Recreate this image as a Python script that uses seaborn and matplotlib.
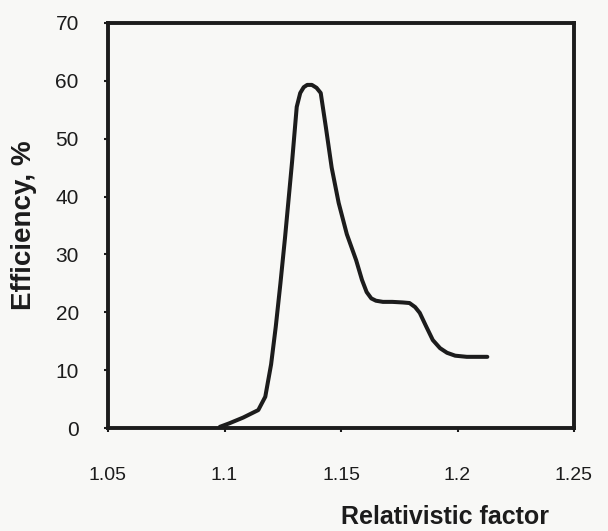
import matplotlib
matplotlib.use("Agg")
import matplotlib.pyplot as plt
import seaborn as sns
import pandas as pd

# Data
factor = [1.098, 1.102, 1.108, 1.1145, 1.1175, 1.120, 1.122, 1.124, 1.126, 1.129, 1.131,
          1.1325, 1.134, 1.1355, 1.1375, 1.1395, 1.1413, 1.1435, 1.146, 1.149, 1.1525,
          1.1565, 1.159, 1.161, 1.163, 1.165, 1.168, 1.172, 1.1765, 1.1794, 1.1818,
          1.1838, 1.1865, 1.1894, 1.1925, 1.1955, 1.199, 1.204, 1.2128]
efficiency = [0.2, 0.8, 1.8, 3.1, 5.4, 11.0, 17.5, 25.0, 33.0, 46.0, 55.5,
              57.9, 58.9, 59.3, 59.3, 58.8, 57.9, 52.0, 45.0, 38.9, 33.5,
              29.0, 25.6, 23.5, 22.4, 22.0, 21.8, 21.8, 21.7, 21.6, 20.9,
              19.9, 17.6, 15.2, 13.8, 13.0, 12.5, 12.3, 12.3]

x_ticks = [1.05, 1.1, 1.15, 1.2, 1.25]
x_tick_labels = ["1.05", "1.1", "1.15", "1.2", "1.25"]
y_ticks = [0, 10, 20, 30, 40, 50, 60, 70]

df = pd.DataFrame({"factor": factor, "efficiency": efficiency})

sns.set_theme(style="white")
plt.rcParams['font.family'] = ['Liberation Sans', 'DejaVu Sans']

bg = "#f8f8f6"
ink = "#1c1c1c"
fig = plt.figure(figsize=(6.08, 5.31), dpi=100, facecolor=bg)
ax = fig.add_axes([108/608, 1 - 428/531, (574-108)/608, (428-23)/531])
ax.set_facecolor(bg)

sns.lineplot(data=df, x="factor", y="efficiency", ax=ax, color=ink,
             linewidth=2.9, sort=False)

ax.set_xlim(1.05, 1.25)
ax.set_ylim(0, 70)
ax.set_xticks(x_ticks)
ax.set_xticklabels(x_tick_labels)
ax.set_yticks(y_ticks)

for s in ax.spines.values():
    s.set_color(ink)
    s.set_linewidth(2.8)

ax.tick_params(axis='x', direction='out', length=3, width=1.5, color=ink,
               pad=25, labelsize=14, labelcolor=ink)
ax.tick_params(axis='y', direction='out', length=3, width=1.5, color=ink,
               pad=18, labelsize=15, labelcolor=ink)
ax.tick_params(left=True, bottom=True)

ax.set_xlabel("Relativistic factor", fontsize=18, fontweight='bold', color=ink)
ax.xaxis.set_label_coords(0.723, -0.19)
ax.set_ylabel("Efficiency, %", fontsize=20, fontweight='bold', color=ink)
ax.yaxis.set_label_coords(-0.152, 0.5)

fig.savefig("out.png", dpi=100, facecolor=bg)
